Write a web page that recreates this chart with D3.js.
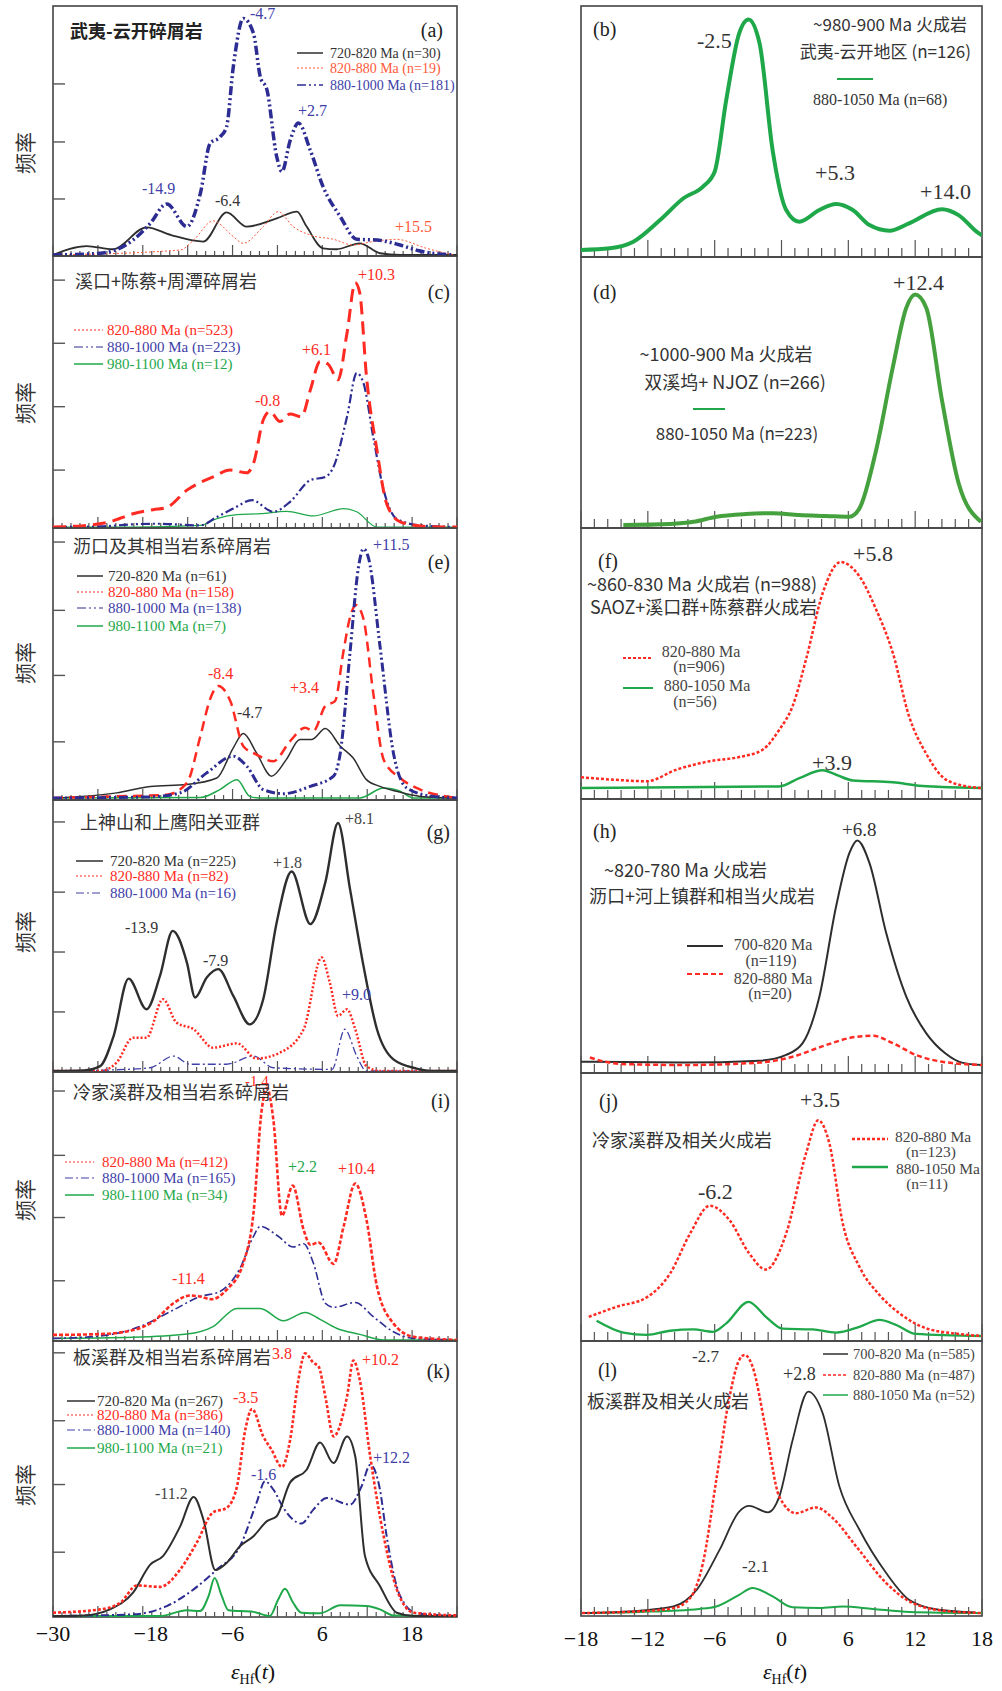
<!DOCTYPE html>
<html>
<head>
<meta charset="utf-8">
<script src="https://cdn.jsdelivr.net/npm/d3@7"></script>
<style>
  body { margin: 0; background: #fff; }
  svg { display: block; }
</style>
</head>
<body>
<svg id="chart" width="1002" height="1691"></svg>
<script>
// ---- data: [eHf(t), relative frequency] ----
var aBlack = [[-30,0],[-25.5,0.036],[-22,0.023],[-17.5,0.111],[-14.2,0.08],[-9.9,0.054],[-6.8,0.171],[-4.1,0.114],[-0.1,0.147],[2.6,0.174],[3.9,0.114],[6.1,0.027],[7.9,0.023],[11.0,0.047],[13.7,0.007],[16.4,0],[24,0]];
var aRed = [[-30,0],[-13.0,0.02],[-11.2,0.06],[-8.6,0.137],[-5.9,0.074],[-4.6,0.047],[-1.9,0.114],[0.1,0.174],[2.1,0.114],[4.4,0.08],[7.5,0.063],[10.1,0.04],[12.8,0.054],[15.9,0.063],[19.9,0.027],[23.5,0]];
var aBlue = [[-30,0],[-23.7,0.007],[-19.3,0.06],[-17.0,0.127],[-14.8,0.205],[-12.1,0.114],[-10.3,0.248],[-9.0,0.448],[-7.7,0.473],[-6.8,0.515],[-5.9,0.756],[-4.56,0.95],[-3.2,0.89],[-2.3,0.716],[-1.4,0.663],[-0.1,0.395],[0.6,0.335],[1.7,0.46],[2.8,0.53],[4.4,0.42],[6.1,0.274],[8.4,0.154],[10.6,0.063],[13.3,0.06],[16.4,0.04],[18.9,0.017],[23.5,0]];

var bGreen = [[-18,0],[-15.4,0.007],[-13.3,0.034],[-10.9,0.123],[-8.8,0.212],[-7.05,0.26],[-6.0,0.321],[-4.96,0.615],[-3.8,0.888],[-2.96,0.945],[-1.97,0.847],[-0.8,0.41],[0.42,0.164],[1.6,0.116],[3.4,0.164],[4.9,0.189],[6.4,0.164],[7.9,0.102],[9.7,0.079],[11.45,0.109],[14.4,0.167],[15.9,0.143],[17.6,0.072],[18,0.06]];

var cRed = [[-30,0],[-25.9,0.005],[-22.4,0.019],[-19.3,0.049],[-16.6,0.064],[-14.8,0.072],[-12.1,0.136],[-8.6,0.185],[-6.3,0.21],[-4.1,0.2],[-3.2,0.235],[-1.9,0.395],[-1.0,0.426],[0.35,0.389],[1.7,0.417],[3.2,0.407],[4.4,0.506],[5.7,0.611],[6.8,0.6],[8.1,0.543],[9.3,0.716],[10.4,0.901],[11.0,0.864],[11.9,0.556],[13.3,0.284],[14.6,0.086],[16.4,0.019],[19.9,0.002],[24,0]];
var cBlue = [[-30,0],[-23.7,0.002],[-19.3,0.01],[-16.1,0.012],[-10.3,0.006],[-8.1,0.037],[-5.9,0.068],[-3.4,0.099],[-0.55,0.056],[1.7,0.093],[4.4,0.173],[6.4,0.185],[7.5,0.222],[9.3,0.407],[10.6,0.568],[11.5,0.531],[12.8,0.333],[14.2,0.136],[15.9,0.031],[19.1,0.006],[24,0]];
var cGreen = [[-30,0],[-19.3,0],[-10.3,0.006],[-8.1,0.031],[-5.4,0.046],[-2.3,0.049],[1.2,0.058],[4.8,0.041],[8.85,0.068],[10.6,0.056],[13.3,0],[24,0]];

var dGreen = [[-14.2,0],[-10.0,0.004],[-7.9,0.012],[-5.85,0.031],[-3.2,0.041],[-0.8,0.044],[1.6,0.037],[4.0,0.034],[6.1,0.031],[7.0,0.062],[8.5,0.28],[10.0,0.59],[11.2,0.81],[12.0,0.86],[13.0,0.81],[14.4,0.467],[15.9,0.156],[17.9,0.012]];

var eBlack = [[-30,0],[-21.5,0.019],[-17.0,0.043],[-12.1,0.05],[-8.1,0.074],[-5.9,0.186],[-4.56,0.239],[-2.8,0.167],[-0.8,0.081],[1.2,0.143],[3.0,0.217],[4.6,0.217],[6.4,0.257],[8.4,0.192],[10.1,0.149],[11.9,0.068],[13.7,0.043],[15.9,0.025],[19.1,0.006],[24,0]];
var eRed = [[-30,0],[-21.5,0.006],[-14.8,0.012],[-12.1,0.056],[-10.3,0.229],[-9.0,0.366],[-7.9,0.415],[-6.3,0.359],[-4.56,0.192],[-2.8,0.161],[-0.55,0.136],[1.7,0.211],[3.7,0.26],[4.8,0.248],[6.4,0.341],[7.7,0.359],[8.8,0.539],[9.7,0.669],[10.5,0.715],[11.5,0.663],[12.8,0.39],[14.2,0.142],[16.4,0.074],[19.1,0.031],[22.6,0.006],[24,0]];
var eBlue = [[-30,0],[-17.0,0.004],[-13.0,0.019],[-9.45,0.093],[-5.9,0.155],[-4.1,0.118],[-1.9,0.031],[0.8,0.016],[4.4,0.043],[7.5,0.081],[8.4,0.167],[9.7,0.539],[10.8,0.849],[11.5,0.923],[12.2,0.886],[13.7,0.564],[15.5,0.167],[17.3,0.037],[20.8,0.006],[24,0]];
var eGreen = [[-30,0],[-10.3,0.002],[-7.7,0.031],[-5.4,0.068],[-3.7,0.006],[-2.5,0],[11.0,0],[14.2,0.037],[16.4,0.025],[18.2,0],[24,0]];

var fRed = [[-18,0.041],[-15.1,0.032],[-12.1,0.026],[-9.4,0.071],[-6.45,0.103],[-3.8,0.119],[-1.7,0.147],[-0.2,0.224],[0.99,0.314],[2.2,0.494],[3.7,0.75],[5.3,0.869],[7.0,0.814],[8.5,0.686],[10.0,0.519],[11.45,0.276],[12.95,0.135],[14.4,0.045],[15.9,0.013],[18,0]];
var fGreen = [[-18,0],[-0.2,0.006],[1.6,0.038],[3.7,0.068],[4.9,0.051],[6.4,0.029],[10.0,0.022],[12.35,0.009],[14.4,0.004],[18,0]];

var gBlack = [[-30,0],[-25.9,0.002],[-23.7,0.018],[-21.9,0.129],[-19.9,0.341],[-17.5,0.228],[-15.7,0.351],[-14.0,0.517],[-12.1,0.4],[-11.0,0.271],[-9.45,0.345],[-7.9,0.376],[-5.9,0.277],[-3.7,0.172],[-1.9,0.265],[-0.1,0.548],[1.9,0.736],[4.4,0.542],[6.4,0.696],[8.1,0.915],[9.7,0.671],[11.5,0.388],[13.3,0.154],[15.5,0.043],[18.6,0.009],[20.8,0],[24,0]];
var gRed = [[-30,0],[-23.7,0],[-21.5,0.031],[-19.3,0.123],[-17.5,0.123],[-15.3,0.265],[-13.5,0.179],[-11.2,0.154],[-8.6,0.086],[-5.4,0.102],[-2.8,0.046],[0.35,0.068],[3.5,0.154],[5.9,0.419],[7.0,0.326],[8.1,0.203],[9.3,0.228],[10.4,0.154],[11.9,0.018],[13.7,0],[24,0]];
var gBlue = [[-30,0],[-20.1,0.006],[-17.0,0.012],[-13.9,0.055],[-11.7,0.025],[-6.8,0.025],[-3.2,0.055],[-0.55,0.012],[7.3,0.006],[9.0,0.154],[10.6,0.055],[11.9,0],[24,0]];

var hBlack = [[-18,0.0125],[-8.8,0.009],[-2.0,0.016],[0.42,0.038],[1.9,0.082],[3.4,0.257],[4.9,0.596],[6.1,0.797],[6.8,0.844],[7.9,0.759],[9.4,0.496],[11.2,0.257],[13.0,0.119],[14.7,0.044],[16.2,0.009],[18,0]];
var hRed = [[-17.2,0.028],[-14.5,0.004],[-8.8,0],[-2.0,0.009],[1.0,0.031],[4.0,0.075],[6.4,0.104],[8.2,0.11],[10.0,0.082],[12.05,0.038],[14.4,0.0125],[18,0]];

var iRed = [[-30,0.019],[-23.7,0.022],[-19.3,0.037],[-16.6,0.069],[-13.9,0.137],[-11.7,0.166],[-10.35,0.162],[-8.8,0.152],[-6.8,0.187],[-4.56,0.287],[-3.2,0.474],[-2.1,0.86],[-1.4,0.94],[-0.55,0.823],[0.6,0.464],[2.05,0.576],[3.5,0.411],[4.4,0.355],[5.5,0.364],[7.5,0.284],[8.85,0.424],[10.4,0.584],[11.9,0.449],[13.3,0.2],[15.5,0.062],[18.2,0.012],[22.6,0.002],[24,0]];
var iBlue = [[-30,0.006],[-23.7,0.015],[-18.4,0.05],[-13.9,0.112],[-10.35,0.162],[-7.7,0.181],[-5.0,0.268],[-3.2,0.387],[-2.3,0.424],[0.1,0.387],[2.1,0.347],[3.5,0.359],[4.8,0.287],[6.4,0.137],[7.5,0.122],[10.4,0.14],[12.8,0.087],[15.5,0.031],[18.2,0.006],[24,0]];
var iGreen = [[-30,0.006],[-19.3,0.01],[-12.1,0.022],[-8.6,0.05],[-5.4,0.118],[-2.3,0.118],[0.8,0.072],[3.7,0.103],[5.7,0.077],[7.9,0.044],[11.0,0.021],[14.2,0],[24,0]];

var jRed = [[-17.3,0.073],[-14.8,0.111],[-12.1,0.147],[-10.0,0.238],[-8.2,0.39],[-6.45,0.495],[-4.66,0.44],[-2.9,0.314],[-1.4,0.253],[0.42,0.39],[2.2,0.694],[3.3,0.82],[4.3,0.732],[5.5,0.428],[7.0,0.263],[8.8,0.156],[10.6,0.086],[13.0,0.029],[15.9,0.008],[18,0]];
var jGreen = [[-16.6,0.058],[-14.2,0.013],[-12.1,0.004],[-10.0,0.02],[-7.9,0.025],[-6.15,0.016],[-4.96,0.048],[-2.96,0.13],[-1.4,0.073],[0.1,0.028],[2.8,0.025],[4.9,0.013],[7.0,0.035],[8.8,0.061],[10.3,0.042],[12.05,0.008],[18,0]];

var kBlack = [[-30,0],[-25.9,0.002],[-22.4,0.024],[-19.3,0.085],[-17.0,0.187],[-15.3,0.218],[-13.0,0.326],[-11.2,0.433],[-9.9,0.351],[-8.3,0.167],[-6.8,0.193],[-5.0,0.254],[-3.2,0.29],[-1.4,0.345],[-0.1,0.363],[1.7,0.486],[3.9,0.532],[5.7,0.631],[7.5,0.556],[9.3,0.653],[10.4,0.58],[11.7,0.218],[13.7,0.109],[15.95,0.012],[18.2,0],[24,0]];
var kRed = [[-30,0.012],[-23.7,0.024],[-21.0,0.048],[-18.8,0.111],[-15.7,0.106],[-13.0,0.169],[-10.8,0.266],[-8.6,0.377],[-6.8,0.393],[-5.4,0.472],[-4.3,0.677],[-3.4,0.753],[-1.9,0.653],[-0.8,0.605],[0.6,0.542],[1.7,0.641],[2.8,0.859],[3.7,0.955],[4.8,0.921],[5.5,0.907],[6.4,0.798],[7.5,0.653],[9.3,0.798],[10.15,0.929],[11.0,0.859],[12.4,0.58],[14.2,0.29],[15.95,0.097],[18.2,0.012],[24,0.002]];
var kBlue = [[-30,0],[-19.3,0.006],[-14.8,0.036],[-11.2,0.097],[-8.1,0.169],[-5.0,0.254],[-2.8,0.411],[-1.66,0.49],[-0.55,0.46],[0.8,0.393],[3.2,0.336],[4.8,0.387],[6.6,0.429],[9.7,0.405],[11.25,0.472],[12.4,0.55],[13.7,0.46],[14.6,0.29],[16.4,0.073],[18.6,0.01],[24,0]];
var kGreen = [[-30,0],[-15.7,0],[-12.1,0.021],[-10.35,0.018],[-9.2,0.073],[-8.4,0.138],[-7.45,0.073],[-6.55,0.021],[-3.2,0.015],[-1.0,0],[0.1,0.06],[1.0,0.099],[2.1,0.048],[3.2,0.012],[5.7,0.01],[8.4,0.039],[11.9,0.036],[13.7,0.024],[15.5,0.002],[24,0]];

var lBlack = [[-17.9,0],[-12.7,0.009],[-9.7,0.024],[-7.6,0.086],[-5.55,0.233],[-3.8,0.373],[-2.9,0.394],[-1.2,0.37],[-0.2,0.428],[1.0,0.636],[2.4,0.814],[3.7,0.734],[5.2,0.465],[7.0,0.306],[9.4,0.147],[11.45,0.049],[14.1,0.012],[17.4,0.002]];
var lRed = [[-17.9,0],[-12.7,0.006],[-9.7,0.018],[-8.2,0.055],[-7.05,0.184],[-5.85,0.49],[-4.66,0.796],[-3.8,0.93],[-3.3,0.949],[-2.6,0.906],[-1.4,0.673],[-0.2,0.428],[1.3,0.367],[3.1,0.388],[4.6,0.349],[6.7,0.245],[9.4,0.11],[11.75,0.037],[15.0,0.006],[18,0]];
var lGreen = [[-17.9,0],[-12.7,0.004],[-7.4,0.015],[-5.85,0.024],[-3.8,0.067],[-2.6,0.092],[-0.8,0.061],[1.0,0.021],[3.4,0.018],[5.5,0.024],[8.2,0.015],[11.5,0.004],[18,0]];

// y tick values per left panel (relative frequency)
var aYTicks = [0.225, 0.454, 0.687];
var cYTicks = [0.21, 0.444, 0.678, 0.911];
var eYTicks = [0.208, 0.454, 0.695, 0.948];
var gYTicks = [0.218, 0.439, 0.66, 0.919];
var iYTicks = [0.221, 0.457, 0.689, 0.929];
var kYTicks = [0.232, 0.478, 0.71, 0.957];

var leftTickLabels = [-30, -18, -6, 6, 18];
var rightTickLabels = [-18, -12, -6, 0, 6, 12, 18];

// ---- styles ----
var SERIF = '"Liberation Serif","Times New Roman",serif';
var SANS = '"Noto Sans CJK SC","Noto Sans",sans-serif';
var C_BLACK = '#2e2e2e', C_RED = '#ff2a22', C_REDA = '#ff5a3a', C_BLUE = '#2c2c92',
    C_BLUE_T = '#4040a8', C_GREEN = '#1fa84a', C_GREEN_D = '#45a13d', C_FRAME = '#444';
var DASH_DD = '9,3,2,3,2,3', DASH_D = '8,3,2,3', DOT = '2,2', DOT3 = '3,2', DASHED = '13,7', SDASH = '5,3';

var leftCol = {x0: 53, x1: 457, domain: [-30, 24], major: 11, minor: 5};
var rightCol = {x0: 581, x1: 982, domain: [-18, 18], major: 17, minor: 9};

function S(data, color, w, dash) { return {data: data, color: color, w: w, dash: dash}; }
function L(label, color, tcolor, w, dash) { return {label: label, color: color, tcolor: tcolor, w: w, dash: dash}; }
function T(text, x, y, color, size, family, anchor, weight) {
  return {text: text, x: x, y: y, color: color, size: size, family: family || SERIF, anchor: anchor || 'start', weight: weight || 'normal'};
}

var panels = [
  {id: 'a', col: leftCol, top: 6, bot: 256, base: 255, yTicks: aYTicks, ylab: 153,
   series: [S(aBlack, C_BLACK, 1.8), S(aRed, C_REDA, 1, DOT), S(aBlue, C_BLUE, 3.5, DASH_DD)],
   legend: {x0: 297, x1: 323, tx: 330, ys: [53, 68, 85], size: 14,
     items: [L('720-820 Ma (n=30)', C_BLACK, '#333', 1.5), L('820-880 Ma (n=19)', C_REDA, C_REDA, 1, DOT), L('880-1000 Ma (n=181)', C_BLUE, C_BLUE_T, 1.5, DASH_DD)]},
   texts: [T('武夷-云开碎屑岩', 70, 38, '#222', 18, SANS, 'start', 'bold'), T('(a)', 443, 37, '#222', 20, SERIF, 'end'),
     T('-4.7', 250, 19, C_BLUE_T, 16), T('-14.9', 142, 194, C_BLUE_T, 16), T('-6.4', 215, 206, '#333', 16),
     T('+2.7', 298, 116, C_BLUE_T, 16), T('+15.5', 395, 232, C_REDA, 16)]},
  {id: 'c', col: leftCol, top: 256, bot: 528, base: 527, yTicks: cYTicks, ylab: 403,
   series: [S(cGreen, C_GREEN, 1.2), S(cBlue, C_BLUE, 2.2, DASH_DD), S(cRed, C_RED, 3, DASHED)],
   legend: {x0: 74, x1: 103, tx: 107, ys: [330, 347, 364], size: 15,
     items: [L('820-880 Ma (n=523)', C_RED, C_RED, 1, DOT), L('880-1000 Ma (n=223)', C_BLUE, C_BLUE_T, 1.2, DASH_DD), L('980-1100 Ma (n=12)', C_GREEN, C_GREEN, 1.5)]},
   texts: [T('溪口+陈蔡+周潭碎屑岩', 75, 288, '#333', 18, SANS), T('(c)', 450, 299, '#222', 20, SERIF, 'end'),
     T('+10.3', 358, 280, C_RED, 16), T('+6.1', 302, 355, C_RED, 16), T('-0.8', 255, 406, C_RED, 16)]},
  {id: 'e', col: leftCol, top: 528, bot: 800, base: 798, yTicks: eYTicks, ylab: 663,
   series: [S(eGreen, C_GREEN, 1.5), S(eBlack, C_BLACK, 1.5), S(eRed, C_RED, 2.5, '10,6'), S(eBlue, C_BLUE, 3, DASH_DD)],
   legend: {x0: 77, x1: 103, tx: 108, ys: [576, 592, 608, 626], size: 15,
     items: [L('720-820 Ma (n=61)', C_BLACK, '#333', 1.5), L('820-880 Ma (n=158)', C_RED, C_RED, 1, DOT), L('880-1000 Ma (n=138)', C_BLUE, C_BLUE_T, 1.2, DASH_DD), L('980-1100 Ma (n=7)', C_GREEN, C_GREEN, 1.5)]},
   texts: [T('沥口及其相当岩系碎屑岩', 73, 553, '#333', 18, SANS), T('(e)', 450, 569, '#222', 20, SERIF, 'end'),
     T('+11.5', 373, 550, C_BLUE_T, 16), T('-8.4', 208, 679, C_RED, 16), T('-4.7', 237, 718, '#333', 16), T('+3.4', 290, 693, C_RED, 16)]},
  {id: 'g', col: leftCol, top: 800, bot: 1072, base: 1071, yTicks: gYTicks, ylab: 932,
   series: [S(gBlue, C_BLUE_T, 1.3, DASH_D), S(gRed, C_RED, 2.5, DOT), S(gBlack, C_BLACK, 2.4)],
   legend: {x0: 76, x1: 103, tx: 110, ys: [861, 876, 893], size: 15,
     items: [L('720-820 Ma (n=225)', C_BLACK, '#333', 1.5), L('820-880 Ma (n=82)', C_RED, C_RED, 1, DOT), L('880-1000 Ma (n=16)', C_BLUE_T, C_BLUE_T, 1.2, DASH_D)]},
   texts: [T('上神山和上鹰阳关亚群', 80, 829, '#333', 18, SANS), T('(g)', 450, 839, '#222', 20, SERIF, 'end'),
     T('+8.1', 345, 824, '#444', 16), T('+1.8', 273, 868, '#444', 16), T('-13.9', 125, 933, '#333', 16),
     T('-7.9', 203, 966, '#333', 16), T('+9.0', 342, 1000, C_BLUE_T, 16)]},
  {id: 'i', col: leftCol, top: 1072, bot: 1341, base: 1340, yTicks: iYTicks, ylab: 1200,
   series: [S(iGreen, C_GREEN, 1.5), S(iBlue, C_BLUE, 1.6, DASH_D), S(iRed, C_RED, 2.6, '4,2')],
   legend: {x0: 65, x1: 94, tx: 102, ys: [1162, 1178, 1195], size: 15,
     items: [L('820-880 Ma (n=412)', C_RED, C_RED, 1, DOT), L('880-1000 Ma (n=165)', C_BLUE_T, C_BLUE_T, 1.2, DASH_D), L('980-1100 Ma (n=34)', C_GREEN, C_GREEN, 1.5)]},
   texts: [T('-1.4', 245, 1086, C_RED, 15), T('冷家溪群及相当岩系碎屑岩', 73, 1099, '#333', 18, SANS), T('(i)', 450, 1108, '#222', 20, SERIF, 'end'),
     T('+2.2', 288, 1172, C_GREEN, 16), T('+10.4', 338, 1174, C_RED, 16), T('-11.4', 172, 1284, C_RED, 16)]},
  {id: 'k', col: leftCol, top: 1341, bot: 1617, base: 1616, yTicks: kYTicks, ylab: 1485,
   series: [S(kGreen, C_GREEN, 2), S(kBlue, C_BLUE, 2, DASH_D), S(kBlack, C_BLACK, 2), S(kRed, C_RED, 2.6, DOT3)],
   legend: {x0: 67, x1: 95, tx: 97, ys: [1401, 1415, 1430, 1448], size: 15,
     items: [L('720-820 Ma (n=267)', C_BLACK, '#333', 1.5), L('820-880 Ma (n=386)', C_RED, C_RED, 1, DOT), L('880-1000 Ma (n=140)', C_BLUE_T, C_BLUE_T, 1.2, DASH_D), L('980-1100 Ma (n=21)', C_GREEN, C_GREEN, 1.5)]},
   texts: [T('3.8', 272, 1359, C_RED, 16), T('板溪群及相当岩系碎屑岩', 73, 1364, '#333', 18, SANS), T('(k)', 450, 1378, '#222', 20, SERIF, 'end'),
     T('+10.2', 362, 1365, C_RED, 16), T('-3.5', 233, 1403, C_RED, 16), T('-1.6', 251, 1480, C_BLUE_T, 16),
     T('+12.2', 373, 1463, C_BLUE_T, 16), T('-11.2', 155, 1499, '#444', 16)]},

  {id: 'b', col: rightCol, top: 6, bot: 257, base: 250,
   series: [S(bGreen, C_GREEN, 4)],
   legend: {x0: 837, x1: 873, ys: [79], items: [L('', C_GREEN, C_GREEN, 2)]},
   texts: [T('(b)', 593, 36, '#222', 20), T('-2.5', 697, 48, '#333', 22), T('+5.3', 815, 180, '#333', 22), T('+14.0', 920, 199, '#333', 22),
     T('~980-900 Ma 火成岩', 967, 31, '#333', 17, SANS, 'end'), T('武夷-云开地区 (n=126)', 971, 58, '#333', 17, SANS, 'end'),
     T('880-1050 Ma (n=68)', 813, 105, '#333', 16)]},
  {id: 'd', col: rightCol, top: 257, bot: 528, base: 525,
   series: [S(dGreen, C_GREEN_D, 4)],
   legend: {x0: 693, x1: 725, ys: [409], items: [L('', C_GREEN, C_GREEN, 2)]},
   texts: [T('(d)', 593, 299, '#222', 20), T('+12.4', 893, 290, '#333', 22),
     T('~1000-900 Ma 火成岩', 726, 361, '#333', 18, SANS, 'middle'), T('双溪坞+ NJOZ (n=266)', 735, 389, '#333', 18, SANS, 'middle'),
     T('880-1050 Ma (n=223)', 737, 440, '#333', 17, SANS, 'middle')]},
  {id: 'f', col: rightCol, top: 528, bot: 799, base: 788,
   series: [S(fGreen, C_GREEN, 2.5), S(fRed, C_RED, 2.5, DOT3)],
   legend: {x0: 623, x1: 653, ys: [658, 688], items: [L('', C_RED, C_RED, 2, DOT3), L('', C_GREEN, C_GREEN, 2)]},
   texts: [T('(f)', 598, 568, '#222', 20), T('+5.8', 853, 561, '#333', 22), T('+3.9', 812, 770, '#333', 22),
     T('~860-830 Ma 火成岩 (n=988)', 587, 591, '#333', 18, SANS), T('SAOZ+溪口群+陈蔡群火成岩', 590, 614, '#333', 18, SANS),
     T('820-880 Ma', 701, 657, '#444', 16, SERIF, 'middle'), T('(n=906)', 699, 672, '#444', 16, SERIF, 'middle'),
     T('880-1050 Ma', 707, 691, '#444', 16, SERIF, 'middle'), T('(n=56)', 695, 707, '#444', 16, SERIF, 'middle')]},
  {id: 'h', col: rightCol, top: 799, bot: 1073, base: 1065,
   series: [S(hBlack, C_BLACK, 2), S(hRed, C_RED, 2.5, SDASH)],
   legend: {x0: 687, x1: 723, ys: [946, 974], items: [L('', C_BLACK, C_BLACK, 2), L('', C_RED, C_RED, 2, SDASH)]},
   texts: [T('(h)', 593, 838, '#222', 20), T('+6.8', 842, 836, '#333', 19),
     T('~820-780 Ma 火成岩', 604, 877, '#333', 18, SANS), T('沥口+河上镇群和相当火成岩', 589, 903, '#333', 18, SANS),
     T('700-820 Ma', 773, 950, '#444', 16, SERIF, 'middle'), T('(n=119)', 771, 966, '#444', 16, SERIF, 'middle'),
     T('820-880 Ma', 773, 984, '#444', 16, SERIF, 'middle'), T('(n=20)', 770, 999, '#444', 16, SERIF, 'middle')]},
  {id: 'j', col: rightCol, top: 1073, bot: 1341, base: 1336,
   series: [S(jGreen, C_GREEN, 2.3), S(jRed, C_RED, 2.5, DOT3)],
   legend: {x0: 852, x1: 888, ys: [1139, 1167], items: [L('', C_RED, C_RED, 2.5, DOT3), L('', C_GREEN, C_GREEN, 2.3)]},
   texts: [T('(j)', 599, 1108, '#222', 20), T('+3.5', 800, 1107, '#333', 22), T('-6.2', 698, 1199, '#333', 22),
     T('冷家溪群及相关火成岩', 592, 1147, '#333', 18, SANS),
     T('820-880 Ma', 933, 1142, '#444', 15.5, SERIF, 'middle'), T('(n=123)', 931, 1157, '#444', 15.5, SERIF, 'middle'),
     T('880-1050 Ma', 938, 1174, '#444', 15.5, SERIF, 'middle'), T('(n=11)', 927, 1189, '#444', 15.5, SERIF, 'middle')]},
  {id: 'l', col: rightCol, top: 1341, bot: 1616, base: 1613,
   series: [S(lGreen, C_GREEN, 2), S(lBlack, C_BLACK, 1.8), S(lRed, C_RED, 2.5, DOT3)],
   legend: {x0: 823, x1: 848, tx: 853, ys: [1354, 1375, 1395], size: 14.5,
     items: [L('700-820 Ma (n=585)', C_BLACK, '#444', 1.5), L('820-880 Ma (n=487)', C_RED, '#444', 1.5, DOT3), L('880-1050 Ma (n=52)', C_GREEN, '#444', 1.5)]},
   texts: [T('(l)', 598, 1377, '#222', 20), T('-2.7', 692, 1362, '#333', 17), T('+2.8', 783, 1380, '#333', 18),
     T('板溪群及相关火成岩', 587, 1408, '#333', 18, SANS), T('-2.1', 742, 1572, '#333', 17)]}
];

var svg = d3.select('#chart');

panels.forEach(function(p) {
  var col = p.col;
  var x = d3.scaleLinear().domain(col.domain).range([col.x0, col.x1]);
  var y = d3.scaleLinear().domain([0, 1]).range([p.base, p.top]);
  var g = svg.append('g').attr('class', 'panel-' + p.id);

  // frame
  g.append('rect')
    .attr('x', col.x0).attr('y', p.top)
    .attr('width', col.x1 - col.x0).attr('height', p.bot - p.top)
    .attr('fill', 'none').attr('stroke', C_FRAME).attr('stroke-width', 1.6);

  // x ticks, every 1.2 units, long every 6
  var ticks = d3.range(0, Math.round((col.domain[1] - col.domain[0]) / 1.2) + 1).map(function(i) {
    return col.domain[0] + i * 1.2;
  });
  g.selectAll('line.xt').data(ticks).enter().append('line')
    .attr('x1', function(v) { return x(v); }).attr('x2', function(v) { return x(v); })
    .attr('y1', p.bot)
    .attr('y2', function(v, i) { return p.bot - (i % 5 === 0 ? col.major : col.minor); })
    .attr('stroke', '#555').attr('stroke-width', 1.2);

  // y ticks (left column only)
  if (p.yTicks) {
    g.selectAll('line.yt').data(p.yTicks).enter().append('line')
      .attr('x1', col.x0).attr('x2', col.x0 + 12)
      .attr('y1', function(v) { return y(v); }).attr('y2', function(v) { return y(v); })
      .attr('stroke', '#555').attr('stroke-width', 1.4);
    svg.append('text')
      .attr('transform', 'translate(33,' + p.ylab + ') rotate(-90)')
      .attr('text-anchor', 'middle')
      .style('font-family', SANS).style('font-size', '21px').attr('fill', '#333')
      .text('频率');
  }

  // curves
  var clipId = 'clip-' + p.id;
  svg.append('clipPath').attr('id', clipId).append('rect')
    .attr('x', col.x0).attr('y', p.top - 2)
    .attr('width', col.x1 - col.x0).attr('height', p.bot - p.top + 2);
  var line = d3.line()
    .x(function(d) { return x(d[0]); })
    .y(function(d) { return y(d[1]); })
    .curve(d3.curveMonotoneX);
  var cg = g.append('g').attr('clip-path', 'url(#' + clipId + ')');
  p.series.forEach(function(s) {
    cg.append('path').datum(s.data)
      .attr('d', line)
      .attr('fill', 'none')
      .attr('stroke', s.color)
      .attr('stroke-width', s.w)
      .attr('stroke-dasharray', s.dash || null)
      .attr('stroke-linejoin', 'round');
  });

  // legend
  var lg = p.legend;
  lg.items.forEach(function(it, i) {
    g.append('line')
      .attr('x1', lg.x0).attr('x2', lg.x1)
      .attr('y1', lg.ys[i]).attr('y2', lg.ys[i])
      .attr('stroke', it.color).attr('stroke-width', it.w)
      .attr('stroke-dasharray', it.dash || null);
    if (it.label) {
      g.append('text')
        .attr('x', lg.tx).attr('y', lg.ys[i] + 5)
        .style('font-family', SERIF).style('font-size', lg.size + 'px')
        .attr('fill', it.tcolor).text(it.label);
    }
  });

  // annotations
  p.texts.forEach(function(t) {
    g.append('text')
      .attr('x', t.x).attr('y', t.y)
      .attr('text-anchor', t.anchor)
      .style('font-family', t.family).style('font-size', t.size + 'px')
      .style('font-weight', t.weight)
      .attr('fill', t.color).text(t.text);
  });
});

// bottom tick labels + axis titles
var xl = d3.scaleLinear().domain(leftCol.domain).range([leftCol.x0, leftCol.x1]);
var xr = d3.scaleLinear().domain(rightCol.domain).range([rightCol.x0, rightCol.x1]);
function fmt(v) { return v < 0 ? '\u2212' + Math.abs(v) : String(v); }
svg.selectAll('text.tl').data(leftTickLabels).enter().append('text')
  .attr('x', function(v) { return xl(v) + (v === -18 ? 8 : 0); }).attr('y', 1641)
  .attr('text-anchor', 'middle')
  .style('font-family', SERIF).style('font-size', '22px').attr('fill', '#111')
  .text(fmt);
svg.selectAll('text.tr').data(rightTickLabels).enter().append('text')
  .attr('x', function(v) { return xr(v); }).attr('y', 1646)
  .attr('text-anchor', 'middle')
  .style('font-family', SERIF).style('font-size', '22px').attr('fill', '#111')
  .text(fmt);

[253, 785].forEach(function(cx) {
  var t = svg.append('text').attr('x', cx).attr('y', 1679).attr('text-anchor', 'middle')
    .style('font-family', SERIF).style('font-size', '22px').attr('fill', '#111');
  t.append('tspan').style('font-style', 'italic').text('\u03b5');
  t.append('tspan').attr('dy', 5).style('font-size', '14px').text('Hf');
  t.append('tspan').attr('dy', -5).text('(');
  t.append('tspan').style('font-style', 'italic').text('t');
  t.append('tspan').text(')');
});
</script>
</body>
</html>
